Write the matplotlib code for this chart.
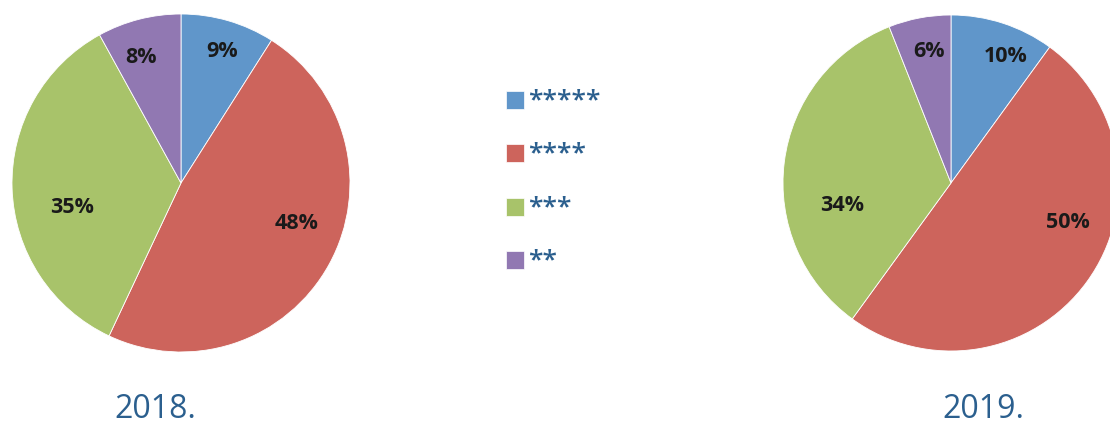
import matplotlib.pyplot as plt
from matplotlib.patches import Rectangle

# ratings share per year
categories = ["*****", "****", "***", "**"]
share_2018 = [9, 48, 35, 8]
share_2019 = [10, 50, 34, 6]
years = ["2018.", "2019."]

colors = ["#6096ca", "#cd645c", "#a8c36a", "#9178b2"]
text_blue = "#2b5f8e"

W, H = 1110, 428
fig = plt.figure(figsize=(W / 100, H / 100), dpi=100)
ax = fig.add_axes([0, 0, 1, 1])
ax.set_xlim(0, W)
ax.set_ylim(0, H)
ax.set_aspect("equal")
ax.axis("off")


def py(y):
    # pixel row (from top) -> data y
    return H - y


def draw_pie(values, cx, cy, r, label_offsets):
    wedges, texts, autotexts = ax.pie(
        values, colors=colors, center=(cx, py(cy)), radius=r,
        startangle=90, counterclock=False, autopct="%d%%",
        wedgeprops=dict(edgecolor="white", linewidth=0.6),
        textprops=dict(family="Open Sans", fontweight="bold",
                       fontsize=15.5, color="#1a1a1a"))
    # excel "best fit" label spots, offsets from centre in pixels
    for t, (dx, dy) in zip(autotexts, label_offsets):
        t.set_position((cx + dx, py(cy + dy)))
    return wedges


draw_pie(share_2018, 181, 183, 169, [(41, -132), (116, 40), (-109, 24), (-40, -126)])
draw_pie(share_2019, 951, 183, 168, [(55, -127), (117, 39), (-109, 22), (-22, -132)])
ax.set_xlim(0, W)
ax.set_ylim(0, H)

# legend
for i, (lab, col) in enumerate(zip(categories, colors)):
    yc = 99.5 + i * 53.5
    ax.add_patch(Rectangle((506, py(yc) - 9), 18, 18, facecolor=col,
                           edgecolor="white", linewidth=0.5))
    ax.text(528, py(yc + 1), lab, family="Open Sans", fontsize=19,
            fontweight="semibold", color=text_blue, va="center", ha="left")

ax.text(155, py(410), years[0], family="Open Sans", fontsize=23,
        color=text_blue, ha="center", va="center")
ax.text(983, py(410), years[1], family="Open Sans", fontsize=23,
        color=text_blue, ha="center", va="center")

fig.savefig("out.png", dpi=100)
